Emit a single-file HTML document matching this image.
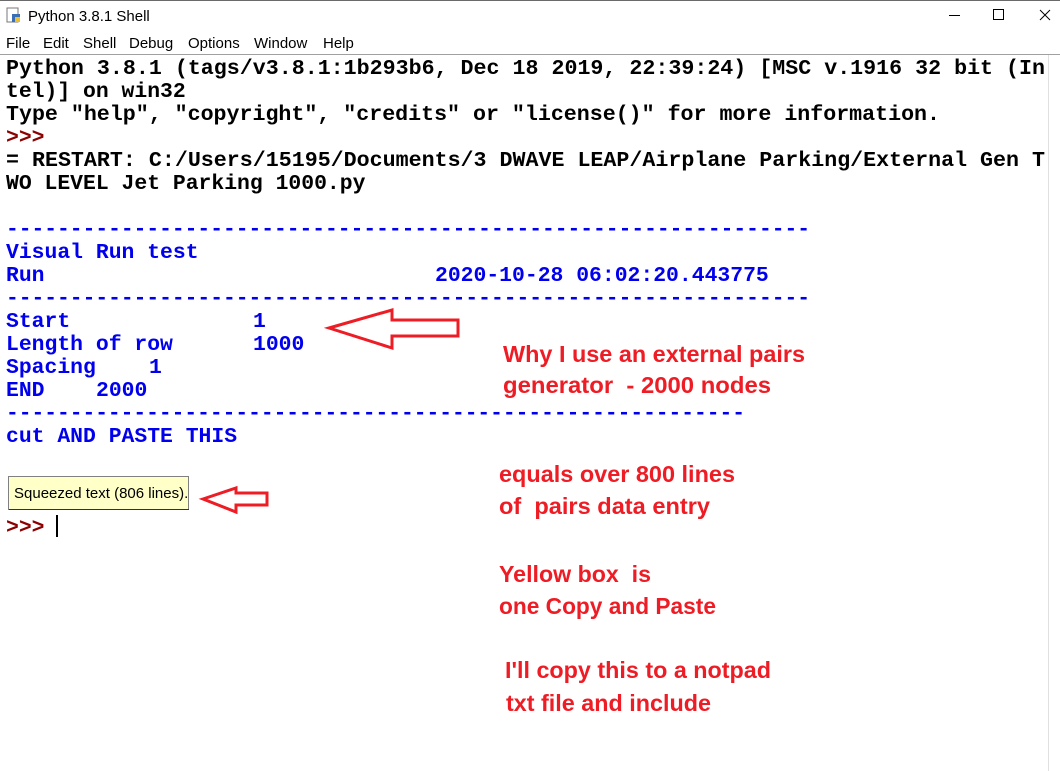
<!DOCTYPE html>
<html><head><meta charset="utf-8"><style>
html,body{margin:0;padding:0;width:1060px;height:771px;overflow:hidden;background:#fff}
svg{display:block}
.m{font-family:"Liberation Mono",monospace;font-weight:bold;font-size:21.4px}
.k{fill:#000}.b{fill:#0000ee}.p{fill:#8b0000}
.r{font-family:"Liberation Sans",sans-serif;font-weight:bold;font-size:23px;fill:#ee1c24}
.u{font-family:"Liberation Sans",sans-serif;font-size:15px;fill:#000}
</style></head><body>
<svg width="1060" height="771" viewBox="0 0 1060 771">
<rect x="0" y="0" width="1060" height="54" fill="#fff"/>
<line x1="0" y1="0.5" x2="1060" y2="0.5" stroke="#6a6a6a"/>
<rect x="7" y="8" width="11" height="14" fill="#fff" stroke="#777"/>
<rect x="12" y="14" width="8" height="8" fill="#3a6fb5"/>
<rect x="15" y="17" width="5" height="5" fill="#e8c030"/>
<text class="u" x="28" y="21">Python 3.8.1 Shell</text>
<line x1="949" y1="15.5" x2="960" y2="15.5" stroke="#000"/>
<rect x="993.5" y="9.5" width="10" height="10" fill="none" stroke="#000"/>
<path d="M1040 10 L1050 20 M1050 10 L1040 20" stroke="#000"/>
<text class="u" x="6" y="48">File</text>
<text class="u" x="43" y="48">Edit</text>
<text class="u" x="83" y="48">Shell</text>
<text class="u" x="129" y="48">Debug</text>
<text class="u" x="188" y="48">Options</text>
<text class="u" x="254" y="48">Window</text>
<text class="u" x="323" y="48">Help</text>
<line x1="0" y1="54.5" x2="1060" y2="54.5" stroke="#a0a0a0"/>
<line x1="1048.5" y1="55" x2="1048.5" y2="771" stroke="#e0e0e0"/>

<text class="m k" x="6" y="74" textLength="1039" lengthAdjust="spacingAndGlyphs">Python 3.8.1 (tags/v3.8.1:1b293b6, Dec 18 2019, 22:39:24) [MSC v.1916 32 bit (In</text>
<text class="m k" x="6" y="97">tel)] on win32</text>
<text class="m k" x="6" y="120" textLength="934" lengthAdjust="spacingAndGlyphs">Type "help", "copyright", "credits" or "license()" for more information.</text>
<text class="m p" x="6" y="143">&gt;&gt;&gt;</text>
<text class="m k" x="6" y="166" textLength="1039" lengthAdjust="spacingAndGlyphs">= RESTART: C:/Users/15195/Documents/3 DWAVE LEAP/Airplane Parking/External Gen T</text>
<text class="m k" x="6" y="189">WO LEVEL Jet Parking 1000.py</text>
<text class="m b" x="6" y="235" textLength="804" lengthAdjust="spacingAndGlyphs">---------------------------------------------------------------</text>
<text class="m b" x="6" y="258">Visual Run test</text>
<text class="m b" x="6" y="281">Run</text>
<text class="m b" x="435" y="281">2020-10-28 06:02:20.443775</text>
<text class="m b" x="6" y="304" textLength="804" lengthAdjust="spacingAndGlyphs">---------------------------------------------------------------</text>
<text class="m b" x="6" y="327">Start</text>
<text class="m b" x="253" y="327">1</text>
<text class="m b" x="6" y="350">Length of row</text>
<text class="m b" x="253" y="350">1000</text>
<text class="m b" x="6" y="373">Spacing</text>
<text class="m b" x="149" y="373">1</text>
<text class="m b" x="6" y="396">END</text>
<text class="m b" x="96" y="396">2000</text>
<text class="m b" x="6" y="419" textLength="739" lengthAdjust="spacingAndGlyphs">----------------------------------------------------------</text>
<text class="m b" x="6" y="442">cut AND PASTE THIS</text>

<rect x="8.5" y="476.5" width="180" height="33" fill="#ffffc8" stroke="#808080"/>
<line x1="9" y1="509.5" x2="189" y2="509.5" stroke="#333"/>
<text class="u" x="14" y="498">Squeezed text (806 lines).</text>
<text class="m p" x="6" y="533">&gt;&gt;&gt;</text>
<line x1="57" y1="515" x2="57" y2="537" stroke="#000" stroke-width="2"/>

<path d="M329 328 L392 310 L392 320 L458 320 L458 336 L392 336 L392 348 Z" fill="#fff" stroke="#ee1c24" stroke-width="3"/>
<path d="M203 499 L236 488 L236 493 L267 493 L267 505 L236 505 L236 512 Z" fill="#fff" stroke="#ee1c24" stroke-width="3"/>

<text class="r" x="503" y="362" textLength="302" lengthAdjust="spacingAndGlyphs">Why I use an external pairs</text>
<text class="r" x="503" y="393" textLength="268" lengthAdjust="spacingAndGlyphs" xml:space="preserve">generator  - 2000 nodes</text>
<text class="r" x="499" y="482" textLength="236" lengthAdjust="spacingAndGlyphs">equals over 800 lines</text>
<text class="r" x="499" y="514" textLength="211" lengthAdjust="spacingAndGlyphs" xml:space="preserve">of  pairs data entry</text>
<text class="r" x="499" y="582" textLength="152" lengthAdjust="spacingAndGlyphs" xml:space="preserve">Yellow box  is</text>
<text class="r" x="499" y="614" textLength="217" lengthAdjust="spacingAndGlyphs">one Copy and Paste</text>
<text class="r" x="505" y="678" textLength="266" lengthAdjust="spacingAndGlyphs">I'll copy this to a notpad</text>
<text class="r" x="506" y="711" textLength="205" lengthAdjust="spacingAndGlyphs">txt file and include</text>
</svg>
</body></html>
